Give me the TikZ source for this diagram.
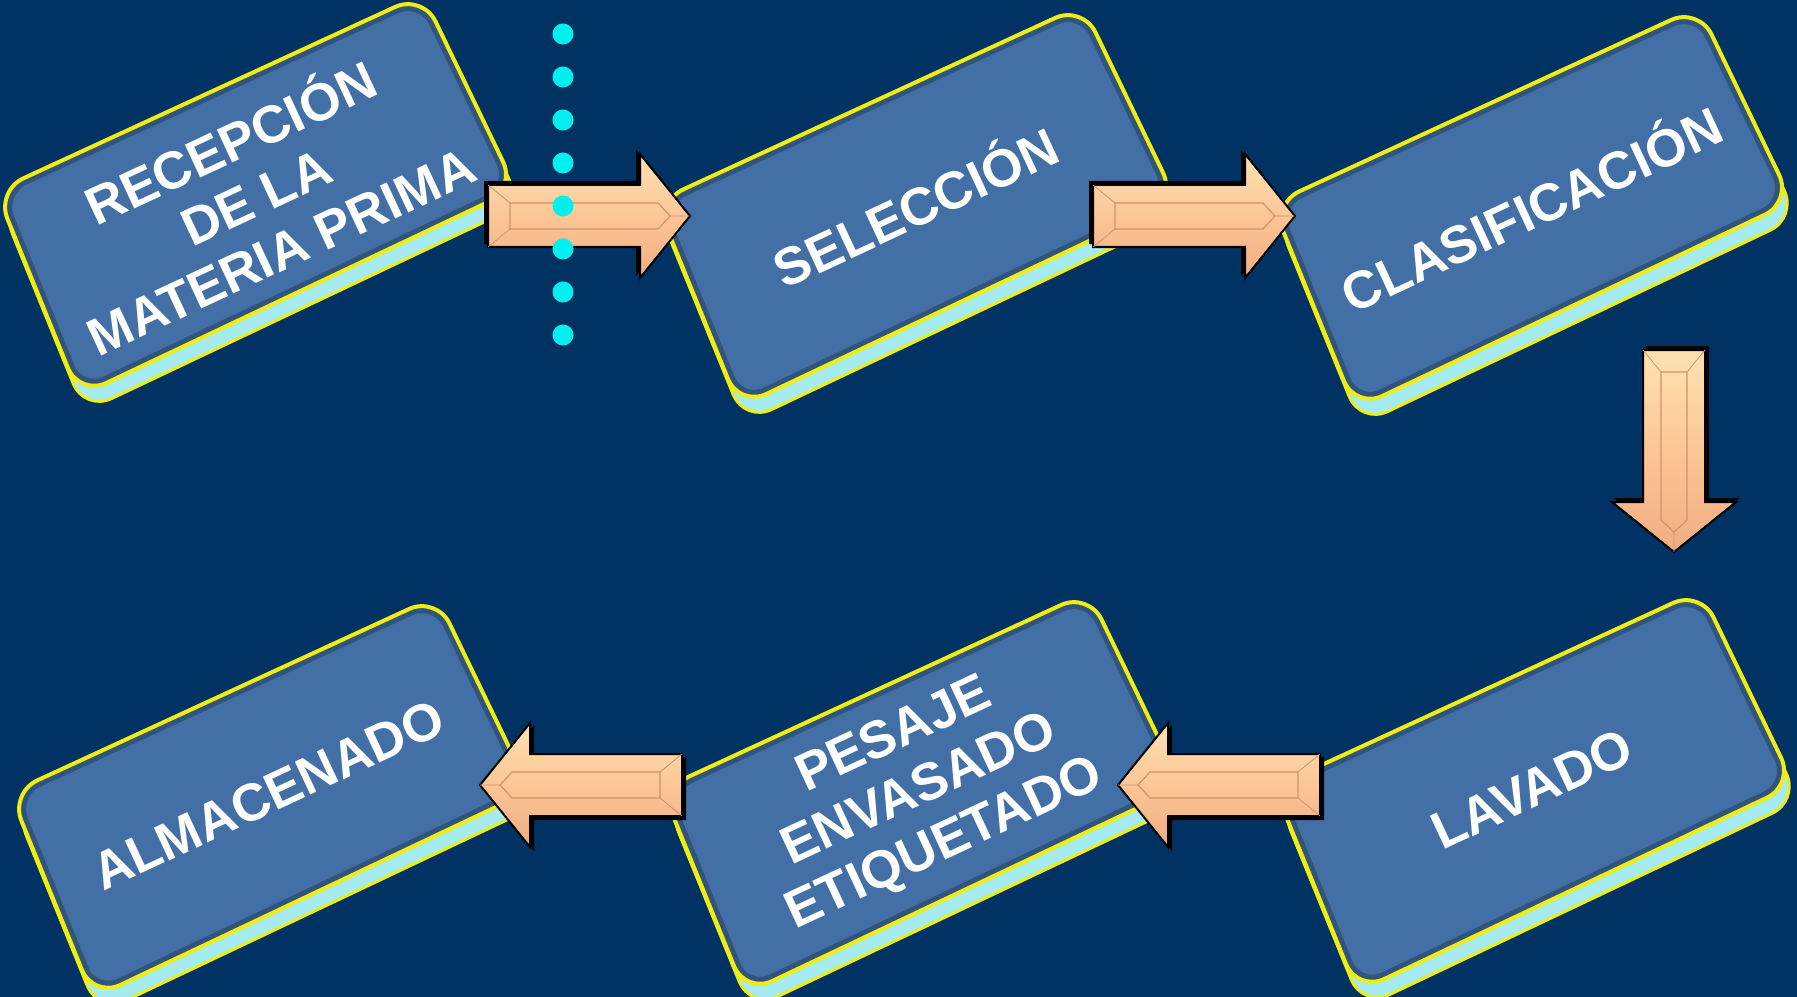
\documentclass[tikz,border=0pt]{standalone}
\usepackage{fontspec}
\setmainfont{Liberation Sans}
\usepackage{tikz}
\usetikzlibrary{calc}

\definecolor{fondo}{RGB}{0,50,100}
\definecolor{cara}{RGB}{66,112,166}
\definecolor{borde}{RGB}{238,238,20}
\definecolor{canto}{RGB}{165,235,240}
\definecolor{flechaclara}{RGB}{255,226,178}
\definecolor{flechamedia}{RGB}{252,198,150}
\definecolor{flechaoscura}{RGB}{242,172,130}
\definecolor{punto}{RGB}{0,240,240}

\tikzstyle{paso}=[text=white,font=\fontsize{15}{17}\selectfont\bfseries,align=center,rotate=25,inner sep=0pt]
\tikzstyle{forma}=[rounded corners=0.3cm]

% caja inclinada: nombre, centro, texto
\newcommand{\caja}[3]{%
  \begin{scope}[shift={#2},scale=1.04]
    \draw[forma,fill=canto,draw=borde,line width=0.03cm] (-243,13) -- (167,-176) -- (257,11) -- (-163,210) -- cycle;
    \begin{scope}
      \clip[forma] (-248,-2) -- (162,-191) -- (252,-4) -- (-168,195) -- cycle;
      \fill[cara] (-260,-200) rectangle (270,210);
      \draw[forma,black,opacity=0.25,line width=0.14cm] (-248,-2) -- (162,-191) -- (252,-4) -- (-168,195) -- cycle;
    \end{scope}
    \draw[forma,borde,line width=0.04cm] (-248,-2) -- (162,-191) -- (252,-4) -- (-168,195) -- cycle;
  \end{scope}
  \node[paso] (#1) at #2 {#3};
}

\tikzset{flecha/.pic={
    \fill[black] (-4,-35) -- (148,-35) -- (148,-66) -- (199,-3) -- (148,60) -- (148,28) -- (-4,28) -- cycle;
    \draw[black,line width=0.02cm,top color=flechaclara,bottom color=flechaoscura,middle color=flechamedia]
      (0,-31) -- (152,-31) -- (152,-62) -- (202,0) -- (152,62) -- (152,31) -- (0,31) -- cycle;
    \draw[flechaoscura!85!black,line width=0.012cm] (22,-13) -- (170,-13) -- (182,0) -- (170,13) -- (22,13) -- cycle;
    \draw[flechaoscura!85!black,line width=0.008cm] (0,-31) -- (22,-13) (0,31) -- (22,13) (202,0) -- (182,0);
  }}

\begin{document}
\begin{tikzpicture}[x=0.01cm,y=-0.01cm]
  \useasboundingbox (0,0) rectangle (1797,997);
  \fill[fondo] (0,0) rectangle (1797,997);

  % pasos del proceso
  \caja{recepcion}{(254,193)}{RECEPCIÓN\\DE LA\\MATERIA PRIMA}
  \caja{seleccion}{(914,204)}{SELECCIÓN}
  \caja{clasificacion}{(1530,206)}{CLASIFICACIÓN}
  \caja{lavado}{(1532,789)}{LAVADO}
  \caja{pesaje}{(920,791)}{PESAJE\\ENVASADO\\ETIQUETADO}
  \caja{almacenado}{(268,795)}{ALMACENADO}

  % flechas
  \coordinate (f1) at (488,216);
  \coordinate (f2) at (1093,216);
  \coordinate (f3) at (1674,350);
  \coordinate (f4) at (1320,785);
  \coordinate (f5) at (682,785);
  \pic at (f1) {flecha};
  \pic at (f2) {flecha};
  \pic[rotate=-90] at (f3) {flecha};
  \pic[rotate=180] at (f4) {flecha};
  \pic[rotate=180] at (f5) {flecha};

  % linea de puntos
  \foreach \k in {0,...,7}
    \fill[punto] (563,34+43*\k) circle (0.105cm);
\end{tikzpicture}
\end{document}
